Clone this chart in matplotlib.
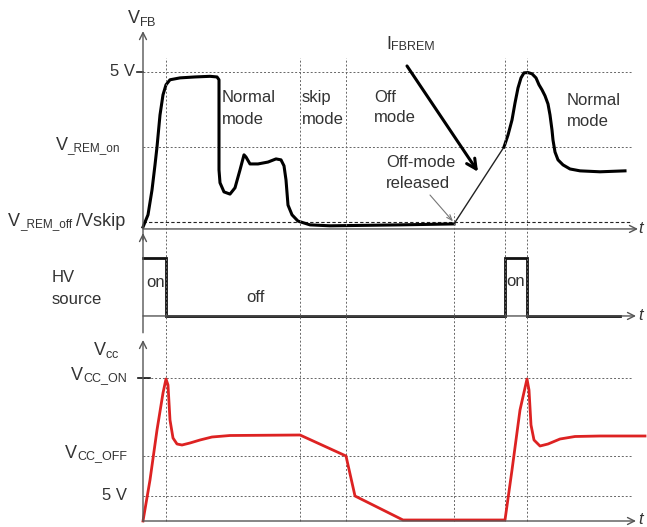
import matplotlib.pyplot as plt

plt.rcParams['font.family'] = ['Liberation Sans', 'DejaVu Sans']

TXT = '#333333'
GRID = '#666666'
RED = '#dd2222'

# mode boundaries on the time axis
t_marks = [4.6, 31.4, 40.6, 62.2, 72.4, 76.8]

# feedback voltage levels
V_5 = 5.0
V_REM_on = 2.61
V_REM_off = 0.22

# V_FB waveform, first part (start-up, normal mode, skip mode, off mode)
t_fb1 = [0, 1, 1.8, 2.4, 2.8, 3.4, 4, 4.6, 5.4, 7.4, 10.4, 13.4, 14.8, 15.2, 15.2,
         15.4, 16.2, 17.4, 18.4, 19.4, 20.2, 20.6, 21.4, 23, 25, 26.6, 27.6, 28.2,
         28.6, 29, 29.8, 31, 33.4, 37.4, 51.4, 62.2]
v_fb1 = [0.06, 0.45, 1.24, 2.04, 2.61, 3.63, 4.27, 4.59, 4.75, 4.81, 4.84, 4.86, 4.84,
         4.75, 1.88, 1.47, 1.18, 1.11, 1.31, 1.88, 2.36, 2.29, 2.07, 2.07, 2.13, 2.23,
         2.2, 2.01, 1.56, 0.76, 0.45, 0.25, 0.13, 0.1, 0.13, 0.16]
# ramp after off-mode release
t_ramp = [62.2, 72.2]
v_ramp = [0.16, 2.61]
# restart and back to normal mode
t_fb2 = [72.2, 73, 73.8, 74.4, 75, 75.6, 76.2, 77, 77.8, 78.6, 79.2, 79.8, 80.4, 81,
         81.4, 81.8, 82, 82.4, 83, 84, 85.4, 87.4, 91.4, 96.4]
v_fb2 = [2.61, 2.99, 3.47, 4.01, 4.49, 4.81, 4.97, 4.98, 4.94, 4.81, 4.59, 4.43, 4.24,
         3.98, 3.63, 3.15, 2.83, 2.45, 2.2, 2.04, 1.91, 1.85, 1.82, 1.85]

# HV start-up source state
t_hv = [0, 4.6, 4.6, 72.4, 72.4, 76.8, 76.8, 95.4]
s_hv = [1, 1, 0, 0, 1, 1, 0, 0]

# Vcc levels and waveform
VCC_ON = 28.6
VCC_OFF = 13.0
VCC_5 = 5.0
t_vcc = [0, 1.4, 2.8, 4, 4.6, 5, 5.4, 6, 6.8, 7.8, 9.4, 11.4, 13.8, 17.4, 31.4, 40.6,
         42.4, 52, 72.4, 73.8, 75.4, 76.8, 77.2, 77.6, 78.2, 79.4, 81, 83.4, 86.4,
         91.4, 100.4]
v_vcc = [0, 8.2, 18.2, 25.6, 28.4, 27.2, 20.2, 16.6, 15.4, 15.2, 15.6, 16.2, 16.8, 17.1,
         17.2, 13, 5, 0.2, 0.2, 10.2, 22.2, 28.4, 26.2, 19.2, 16.2, 15, 15.4, 16.4, 16.9,
         17, 17]

fig = plt.figure(figsize=(6.47, 5.27), dpi=100)
ax1 = fig.add_axes([0, 0, 1, 1])
ax2 = fig.add_axes([0, 0, 1, 1])
ax3 = fig.add_axes([0, 0, 1, 1])
for ax in (ax1, ax2, ax3):
    ax.set_xlim(-28.6, 100.8)
    ax.set_axis_off()
    ax.patch.set_alpha(0)
ax1.set_ylim(-9.49, 7.29)
ax2.set_ylim(-3.64, 5.45)
ax3.set_ylim(-1.2, 104.2)

axis_arrow = dict(arrowstyle='->,head_length=0.5,head_width=0.25', color='#555555',
                  lw=1, shrinkA=0, shrinkB=0)


def axis(ax, x0, y0, x1, y1):
    ax.annotate('', xy=(x1, y1), xytext=(x0, y0), arrowprops=axis_arrow)


def small_caps_label(ax, x, y, parts, ha='right'):
    # parts: list of (text, size); drawn right to left so the last part ends at x
    prev = None
    for txt, size in reversed(parts):
        if prev is None:
            prev = ax.text(x, y, txt, fontsize=size, color=TXT, ha=ha, va='baseline')
        else:
            prev = ax.annotate(txt, xy=(0, 0), xycoords=prev, fontsize=size, color=TXT,
                               ha='right', va='bottom')


def two_lines(ax, x, y1, y2, l1, l2, size=12):
    ax.text(x, y1, l1, fontsize=size, color=TXT, va='center')
    ax.text(x, y2, l2, fontsize=size, color=TXT, va='center')


# vertical mode boundaries
tops = [92.6, 92.6, 92.6, 61.6, 92.6, 92.6]
ax3.vlines(t_marks, 0, tops, colors=GRID, lw=0.7, linestyles=(0, (2, 2)))

# ---------------- V_FB panel ----------------
for lvl in (V_5, V_REM_on):
    ax1.hlines(lvl, 0, 97.8, colors=GRID, lw=0.7, linestyles=(0, (2, 2)))
ax1.hlines(V_REM_off, 0, 97.8, colors='#222222', lw=0.8, linestyles=(0, (3, 2)))
axis(ax1, 0, -0.35, 0, 6.3)
axis(ax1, 0, 0, 99, 0)
ax1.plot([-1.2, 0], [V_5, V_5], color='#222222', lw=1.2)
ax1.plot(t_fb1, v_fb1, color='black', lw=2.2, solid_joinstyle='round')
ax1.plot(t_ramp, v_ramp, color='#222222', lw=1)
ax1.plot(t_fb2, v_fb2, color='black', lw=2.2, solid_joinstyle='round')

ax1.text(-3.2, 6.72, r'$\mathregular{V_{FB}}$', fontsize=13, color=TXT, va='center')
ax1.text(-1.6, V_5, '5 V', fontsize=12, color=TXT, ha='right', va='center')
small_caps_label(ax1, -4.6, V_REM_on - 0.13, [('V', 13), ('_REM_on', 8.5)])
small_caps_label(ax1, -3.6, V_REM_off - 0.13, [('V', 13), ('_REM_off ', 8.5), ('/Vskip', 13)])

two_lines(ax1, 15.8, 4.17, 3.47, 'Normal', 'mode')
two_lines(ax1, 31.8, 4.17, 3.50, 'skip', 'mode')
two_lines(ax1, 46.2, 4.20, 3.54, 'Off', 'mode')
two_lines(ax1, 84.8, 4.08, 3.41, 'Normal', 'mode')
two_lines(ax1, 48.6, 2.13, 1.46, 'Off-mode', 'released')
small_caps_label(ax1, 58.4, 5.7, [('I', 13), ('FBREM', 9)])

ax1.annotate('', xy=(67, 1.82), xytext=(52.8, 5.19),
             arrowprops=dict(arrowstyle='->,head_length=0.7,head_width=0.35',
                             color='black', lw=2.2, shrinkA=0, shrinkB=0))
ax1.annotate('', xy=(62, 0.24), xytext=(57.4, 1.08),
             arrowprops=dict(arrowstyle='->,head_length=0.4,head_width=0.15',
                             color='#777777', lw=0.8, shrinkA=0, shrinkB=0))
ax1.text(99.0, 0, 't', fontsize=12, style='italic', color=TXT, va='center')

# ---------------- HV source panel ----------------
axis(ax2, 0, -0.29, 0, 1.43)
axis(ax2, 0, 0, 98.6, 0)
ax2.plot(t_hv, s_hv, color='#111111', lw=2, solid_joinstyle='miter')
two_lines(ax2, -18.2, 0.67, 0.28, 'HV', 'source')
ax2.text(0.6, 0.57, 'on', fontsize=12, color=TXT, va='center')
ax2.text(22.4, 0.31, 'off', fontsize=12, color=TXT, va='center', ha='center')
ax2.text(72.6, 0.59, 'on', fontsize=12, color=TXT, va='center')
ax2.text(99.0, 0, 't', fontsize=12, style='italic', color=TXT, va='center')

# ---------------- Vcc panel ----------------
for lvl in (VCC_ON, VCC_OFF, VCC_5):
    ax3.hlines(lvl, 0, 97.8, colors=GRID, lw=0.7, linestyles=(0, (2, 2)))
axis(ax3, 0, 0, 0, 36.2)
axis(ax3, 0, 0, 98.6, 0)
ax3.plot([-1, 1.4], [VCC_ON, VCC_ON], color='#111111', lw=1.2)
ax3.plot(t_vcc, v_vcc, color=RED, lw=2, solid_joinstyle='round')

ax3.text(-10, 34.2, r'$\mathregular{V_{cc}}$', fontsize=13, color=TXT, va='center')
small_caps_label(ax3, -3.2, VCC_ON - 0.7, [('V', 13), ('CC_ON', 9)])
small_caps_label(ax3, -3.2, VCC_OFF - 0.7, [('V', 13), ('CC_OFF', 9)])
ax3.text(-3.2, VCC_5, '5 V', fontsize=12, color=TXT, ha='right', va='center')
ax3.text(99.0, 0.4, 't', fontsize=12, style='italic', color=TXT, va='center')

fig.savefig('out.png', dpi=100)
